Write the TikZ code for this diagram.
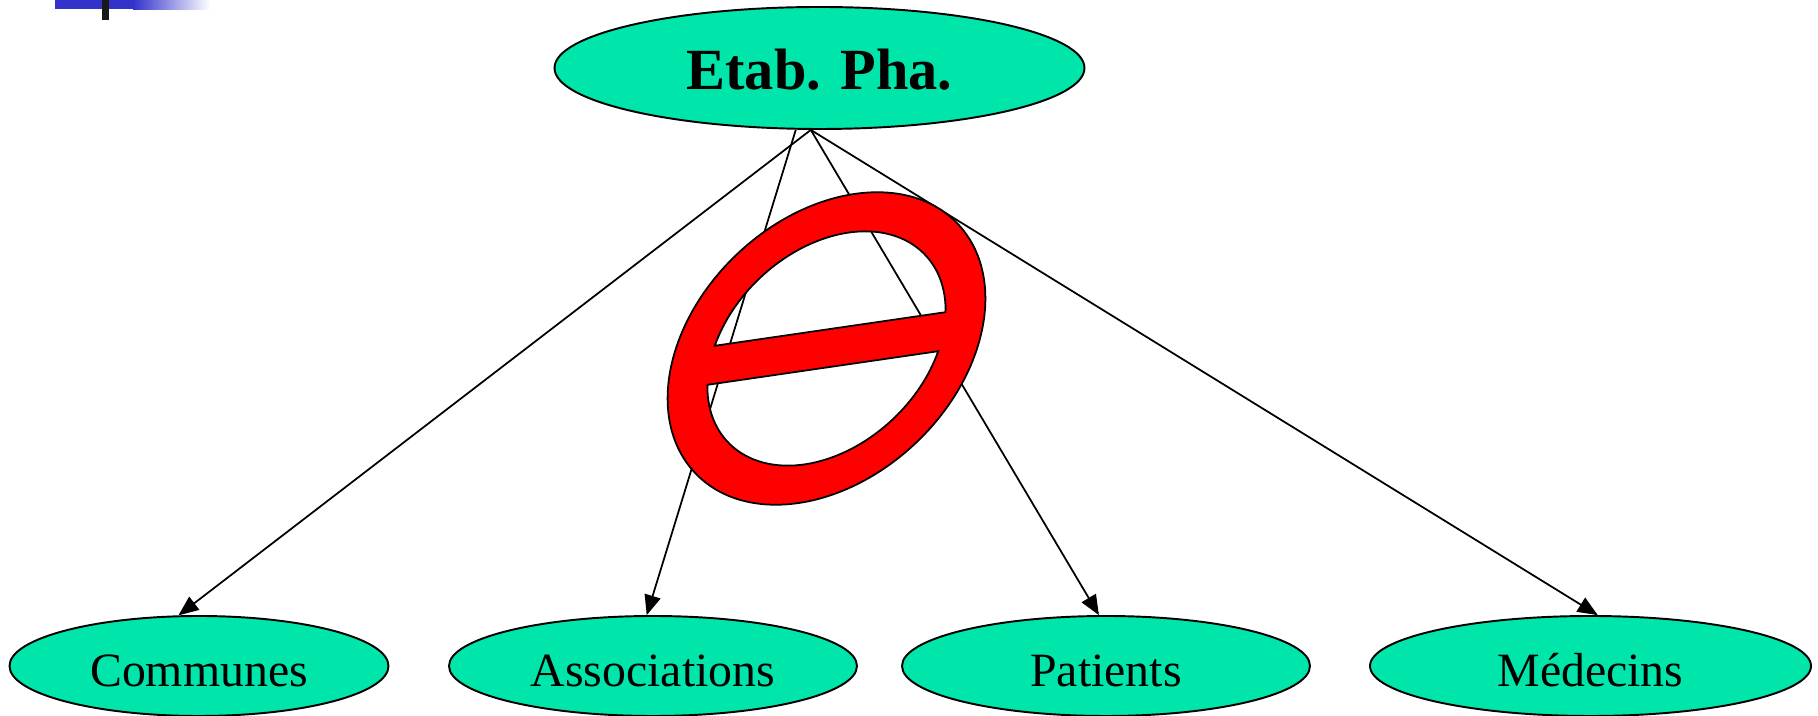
\documentclass[tikz,border=0pt]{standalone}
\usepackage{fontspec}
\setmainfont{Liberation Serif}
\usepackage{tikz}
\usetikzlibrary{arrows}
\usetikzlibrary{decorations.markings}
\usetikzlibrary{positioning}
\usetikzlibrary{shapes.geometric}
\definecolor{tealgreen}{RGB}{0,230,170}
\definecolor{barblue}{RGB}{51,51,204}
\tikzset{->/.style = {decoration={markings,
                                  mark=at position 1 with {\arrow[scale=0.85]{triangle 45}}},
                      postaction={decorate}}}
\tikzset{oval/.style = {draw, ellipse, fill = tealgreen, inner sep = 0, line width = 0.55pt}}
\tikzset{leaf/.style = {oval, minimum height = 1cm, text height = 11.6pt, text depth = 0pt,
                        font = \fontsize{13.6}{16}\selectfont}}
\tikzset{link/.style = {->, line width = 0.5pt, shorten > = 0.02cm}}

\begin{document}
\begin{tikzpicture}
    \useasboundingbox (0, 0) rectangle (18.18, 7.16);

    \fill [barblue] (0.55, 7.16) rectangle (1.34, 7.07);
    \shade [left color = barblue, right color = white] (1.33, 7.16) rectangle (2.10, 7.06);
    \fill [black!90] (1.02, 7.16) rectangle (1.09, 6.96);

    \node [oval, minimum width = 5.30cm, minimum height = 1.22cm, text height = 12.4pt,
           text depth = 0pt, font = \fontsize{16.6}{20}\selectfont\bfseries]
        (etab) at (8.195, 6.48) {Etab. Pha.};

    \node [leaf, minimum width = 3.79cm] (communes) at (1.99, 0.50) {Communes};
    \node [leaf, minimum width = 4.08cm] (associations) at (6.53, 0.50) {Associations};
    \node [leaf, minimum width = 4.08cm] (patients) at (11.06, 0.50) {Patients};
    \node [leaf, minimum width = 4.41cm] (medecins) at (15.905, 0.50) {Médecins};

    \draw [link] (etab.262) -- (communes.112);
    \draw [link] (etab.249) -- (associations.97);
    \draw [link] (etab.262) -- (patients.98);
    \draw [link] (etab.262) -- (medecins.82);

    \begin{scope}[shift = {(8.265, 3.675)}, rotate = 43.5]
        \draw [fill = red, even odd rule, line width = 0.5pt]
            (0, 0) ellipse [x radius = 1.81, y radius = 1.30]
            (-35:1.36 and 0.97) arc [x radius = 1.36, y radius = 0.97, start angle = -35, end angle = 125.6] -- cycle
            (145:1.36 and 0.97) arc [x radius = 1.36, y radius = 0.97, start angle = 145, end angle = 305.6] -- cycle;
    \end{scope}
\end{tikzpicture}
\end{document}
